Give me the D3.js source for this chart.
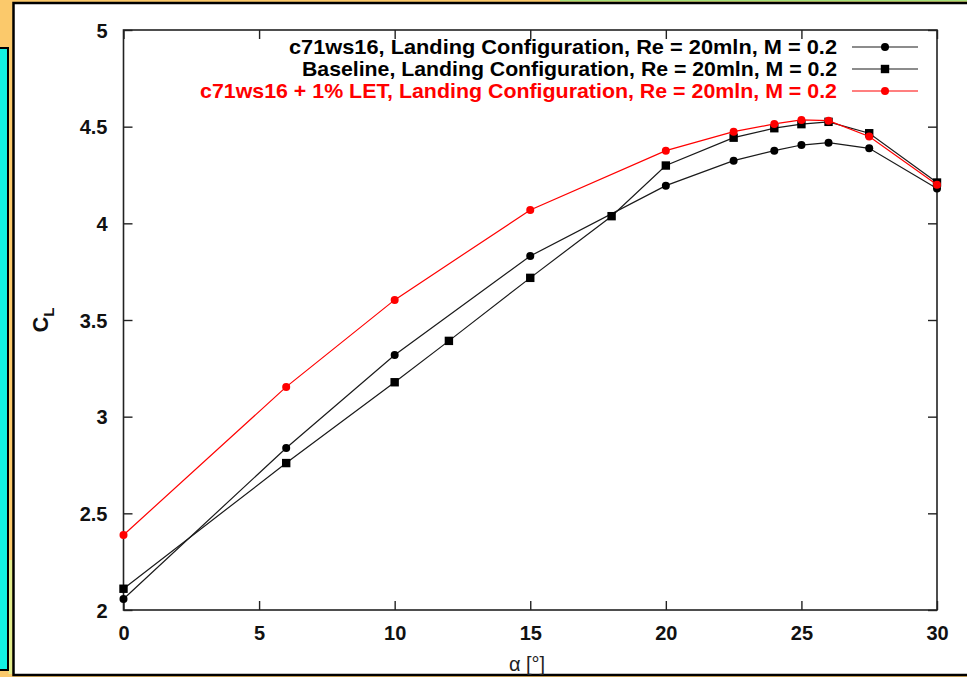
<!DOCTYPE html>
<html><head><meta charset="utf-8">
<script src="https://cdn.jsdelivr.net/npm/d3@7"></script>
<style>html,body{margin:0;padding:0;background:#fbc96b;overflow:hidden}svg{display:block}</style>
</head><body>
<svg id="c" width="967" height="677"></svg>
<script>
// ---- data ----
const seriesNames = [
  "c71ws16, Landing Configuration, Re = 20mln, M = 0.2",
  "Baseline, Landing Configuration, Re = 20mln, M = 0.2",
  "c71ws16 + 1% LET, Landing Configuration, Re = 20mln, M = 0.2"
];
const alphaC71 = [0, 6, 10, 15, 20, 22.5, 24, 25, 26, 27.5, 30];
const clC71    = [2.057, 2.838, 3.319, 3.831, 4.195, 4.324, 4.376, 4.405, 4.417, 4.388, 4.18];
const alphaBase = [0, 6, 10, 12, 15, 18, 20, 22.5, 24, 25, 26, 27.5, 30];
const clBase    = [2.11, 2.76, 3.178, 3.392, 3.718, 4.037, 4.299, 4.443, 4.492, 4.513, 4.525, 4.466, 4.211];
const alphaLET = [0, 6, 10, 15, 20, 22.5, 24, 25, 26, 27.5, 30];
const clLET    = [2.388, 3.154, 3.604, 4.069, 4.376, 4.474, 4.514, 4.535, 4.531, 4.449, 4.199];
const xTicks = [0, 5, 10, 15, 20, 25, 30];
const yTicks = [2, 2.5, 3, 3.5, 4, 4.5, 5];

const svg = d3.select("#c");
const W = 967, H = 677;
// background decorations
svg.append("rect").attr("x",0).attr("y",0).attr("width",W).attr("height",H).attr("fill","#fbc96b");
svg.append("rect").attr("x",560).attr("y",0).attr("width",W-560).attr("height",1.5).attr("fill","#a6e07a");
svg.append("rect").attr("x",8.5).attr("y",560).attr("width",4).attr("height",114).attr("fill","#e3ec8c");
svg.append("rect").attr("x",-2).attr("y",48).attr("width",10).attr("height",622).attr("fill","#12f2e2").attr("stroke","#000").attr("stroke-width",2);
svg.append("rect").attr("x",13.5).attr("y",3).attr("width",W).attr("height",672).attr("fill","#fff").attr("stroke","#000").attr("stroke-width",2.5);

const x = d3.scaleLinear().domain([0,30]).range([123.5,937]);
const y = d3.scaleLinear().domain([2,5]).range([610,30]);
const font = "'Liberation Sans', Arial, Helvetica, sans-serif";
const axisCol = "#222";

// frame
svg.append("rect").attr("x",x(0)).attr("y",y(5)).attr("width",x(30)-x(0)).attr("height",y(2)-y(5))
  .attr("fill","none").attr("stroke",axisCol).attr("stroke-width",1.6);

const tl = 9;
const g = svg.append("g");
const xb = d3.axisBottom(x).tickValues(xTicks).tickSize(-tl).tickFormat(d3.format("d"));
const xt = d3.axisTop(x).tickValues(xTicks).tickSize(-tl).tickFormat("");
const yl = d3.axisLeft(y).tickValues(yTicks).tickSize(-tl).tickFormat(d=>d3.format("")(d));
const yr = d3.axisRight(y).tickValues(yTicks).tickSize(-tl).tickFormat("");
function style(sel){
  sel.select(".domain").remove();
  sel.selectAll("line").attr("stroke",axisCol).attr("stroke-width",1.4);
  sel.selectAll("text").attr("fill","#111").style("font-family",font).style("font-weight","bold").style("font-size","20px");
}
g.append("g").attr("transform",`translate(0,${y(2)})`).call(xb).call(style).selectAll("text").attr("dy","0").attr("y",30);
g.append("g").attr("transform",`translate(0,${y(5)})`).call(xt).call(style);
g.append("g").attr("transform",`translate(${x(0)},0)`).call(yl).call(style).selectAll("text").attr("x",-16).attr("dy","0.36em");
g.append("g").attr("transform",`translate(${x(30)},0)`).call(yr).call(style);

// axis labels
svg.append("text").attr("x",527).attr("y",671).attr("text-anchor","middle")
  .style("font-family",font).style("font-size","20px").attr("fill","#222").text("α [°]");
const yt = svg.append("text").attr("transform","translate(48,320) rotate(-90)").attr("text-anchor","middle")
  .style("font-family",font).style("font-size","22px").style("font-weight","bold").attr("fill","#111");
yt.append("tspan").text("C");
yt.append("tspan").attr("dy","6").style("font-size","15px").text("L");

// series
const series = [
  {name: seriesNames[0], xs: alphaC71, ys: clC71, color: "#000", marker: "circle"},
  {name: seriesNames[1], xs: alphaBase, ys: clBase, color: "#000", marker: "square"},
  {name: seriesNames[2], xs: alphaLET, ys: clLET, color: "#ff0000", marker: "circle"}
];
const legWidths = [548, 535, 637];
const line = d3.line().x(d=>x(d[0])).y(d=>y(d[1]));
function marker(sel, type, color){
  if(type==="circle") sel.append("circle").attr("r",4).attr("fill",color);
  else sel.append("rect").attr("x",-4.2).attr("y",-4.2).attr("width",8.4).attr("height",8.4).attr("fill",color);
}
const lineCol = c => c==="#000" ? "#1a1a1a" : c;
const plot = svg.append("g");
series.forEach(s=>{
  const pts = s.xs.map((a,i)=>[a,s.ys[i]]);
  plot.append("path").attr("d",line(pts)).attr("fill","none").attr("stroke",lineCol(s.color)).attr("stroke-width",1.2);
  pts.forEach(p=>{
    const m = plot.append("g").attr("transform",`translate(${x(p[0])},${y(p[1])})`);
    marker(m, s.marker, s.color);
  });
});

// legend
const legY = [47, 69, 91];
series.forEach((s,i)=>{
  svg.append("text").attr("x",837).attr("y",legY[i]).attr("dy","0.36em").attr("text-anchor","end")
    .attr("textLength",legWidths[i]).attr("lengthAdjust","spacingAndGlyphs")
    .style("font-family",font).style("font-size","20.5px").style("font-weight","bold")
    .attr("fill",s.color).text(s.name);
  svg.append("line").attr("x1",852).attr("x2",918).attr("y1",legY[i]).attr("y2",legY[i])
    .attr("stroke",lineCol(s.color)).attr("stroke-width",1.2);
  const m = svg.append("g").attr("transform",`translate(885,${legY[i]})`);
  marker(m, s.marker, s.color);
});
</script>
</body></html>
